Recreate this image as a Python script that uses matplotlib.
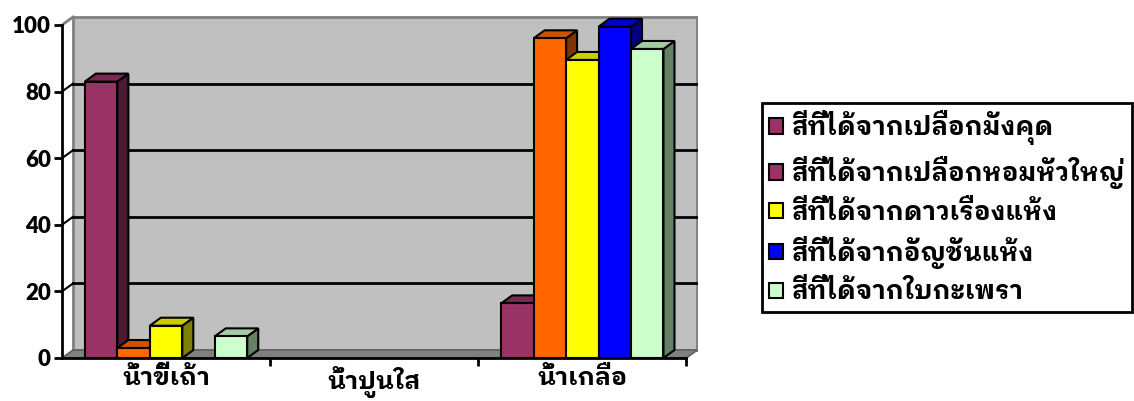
import matplotlib
matplotlib.use("Agg")
import matplotlib.pyplot as plt
from matplotlib.patches import Polygon, Patch
import numpy as np

categories = ["น้ำขี้เถ้า", "น้ำปูนใส", "น้ำเกลือ"]
series_names = ["สีที่ได้จากเปลือกมังคุด", "สีที่ได้จากเปลือกหอมหัวใหญ่",
                "สีที่ได้จากดาวเรืองแห้ง", "สีที่ได้จากอัญชันแห้ง", "สีที่ได้จากใบกะเพรา"]
mangosteen = [83, 0, 16.4]
onion = [3, 0, 96]
marigold = [9.7, 0, 89.5]
butterfly_pea = [0, 0, 99.5]
basil = [6.5, 0, 92.8]
values = [mangosteen, onion, marigold, butterfly_pea, basil]
yticks = [0, 20, 40, 60, 80, 100]

front = ["#993366", "#FF6600", "#FFFF00", "#0000FF", "#CCFFCC"]
side = ["#4D1A33", "#803300", "#808000", "#000080", "#668066"]
top = ["#7A2952", "#CC5200", "#CCCC00", "#0000CC", "#A3CCA3"]
legend_colors = ["#993366", "#993366", "#FFFF00", "#0000FF", "#CCFFCC"]

THAI = ["IBM Plex Sans Thai Looped", "DejaVu Sans"]
W, H = 1134, 401
fig = plt.figure(figsize=(W / 100, H / 100), dpi=100)
ax = fig.add_axes([62 / W, 43 / H, 636 / W, 343 / H])

dx = 11 / 208   # depth offset in category units
dy = 2.4        # depth offset in value units
x0, x1 = -0.5, 2.5
ax.set_xlim(x0, x1 + dx + 0.003)
ax.set_ylim(0, 103)

# walls and floor
ax.add_patch(Polygon([(x0 + dx, dy), (x1 + dx, dy), (x1 + dx, 100 + dy), (x0 + dx, 100 + dy)],
                     closed=True, facecolor="#C0C0C0", edgecolor="#808080", lw=2, zorder=1))
ax.add_patch(Polygon([(x0, 0), (x1, 0), (x1 + dx, dy), (x0 + dx, dy)],
                     closed=True, facecolor="#808080", edgecolor="#606060", lw=1.2, zorder=2))
ax.plot([x0, x0 + dx], [100, 100 + dy], color="#808080", lw=2, zorder=2)
for v in yticks[1:-1]:
    ax.plot([x0 + dx, x1 + dx], [v + dy, v + dy], color="black", lw=2, zorder=2)
    ax.plot([x0, x0 + dx], [v, v + dy], color="black", lw=1.5, zorder=2)

# 3D-looking bars
w = 0.156
xs = np.arange(len(categories))
for ci in range(len(categories)):
    for si in range(len(values)):
        h = values[si][ci]
        if h <= 0:
            continue
        left = xs[ci] + (si - 2.5) * w
        z = 3 + ci * 10 + si * 2
        ax.add_patch(Polygon([(left + w, 0), (left + w + dx, dy), (left + w + dx, h + dy), (left + w, h)],
                             closed=True, facecolor=side[si], edgecolor="black", lw=1.5, zorder=z))
        ax.add_patch(Polygon([(left, h), (left + w, h), (left + w + dx, h + dy), (left + dx, h + dy)],
                             closed=True, facecolor=top[si], edgecolor="black", lw=1.5, zorder=z))
        ax.bar(left, h, width=w, align="edge", color=front[si], edgecolor="black", lw=1.5, zorder=z + 1)

# axes
for s in ["top", "right"]:
    ax.spines[s].set_visible(False)
ax.spines["left"].set_bounds(0, 100)
ax.spines["bottom"].set_bounds(x0, x1)
ax.spines["left"].set_linewidth(2)
ax.spines["bottom"].set_linewidth(2)
ax.spines["left"].set_zorder(50)
ax.spines["bottom"].set_zorder(50)
ax.set_yticks(yticks)
ax.set_yticklabels([str(t) for t in yticks], fontsize=16, fontweight="heavy", family="Lato")
ax.tick_params(axis="y", length=6, width=2, pad=2)
ax.set_xticks([0.5, 1.5, 2.5])
ax.set_xticklabels([])
ax.tick_params(axis="x", length=6, width=2)
ax.set_xticks(xs, minor=True)
ax.set_xticklabels(categories, minor=True, fontsize=18, fontweight="bold", family=THAI)
ax.tick_params(axis="x", which="minor", length=0, pad=6)

handles = [Patch(facecolor=c, edgecolor="black", lw=1.5) for c in legend_colors]
leg = fig.legend(handles, series_names, loc="upper left", bbox_to_anchor=(762 / W, 1 - 103 / H),
                 borderaxespad=0, fancybox=False, edgecolor="black", framealpha=1,
                 prop={"family": THAI, "weight": "bold", "size": 18.5},
                 handlelength=0.55, handleheight=0.55, handletextpad=0.32,
                 labelspacing=0.42, borderpad=0.28)
leg.get_frame().set_linewidth(2)

fig.savefig("out.png", dpi=100)
